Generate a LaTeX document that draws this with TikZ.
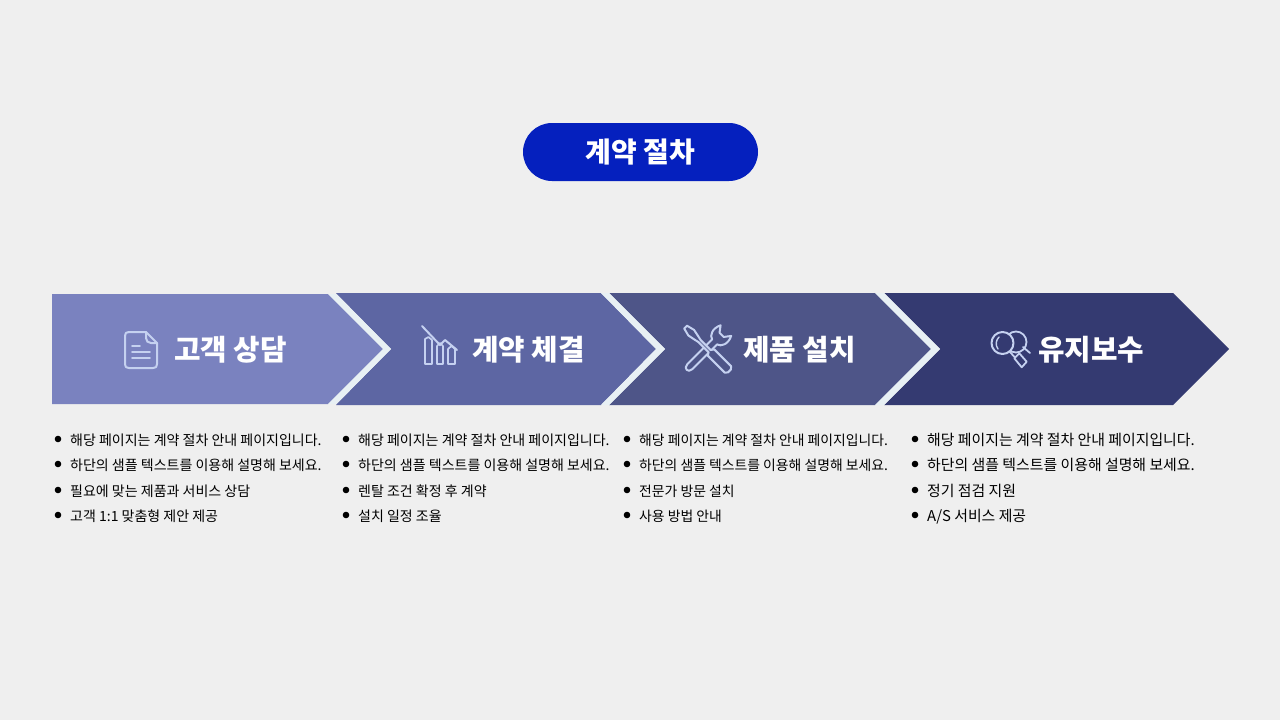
\documentclass[tikz,border=0pt]{standalone}
\usepackage{fontspec}
\setmainfont{Noto Sans CJK KR}
\definecolor{pagegray}{RGB}{239,239,239}
\definecolor{titleblue}{RGB}{5,32,190}
\definecolor{stepone}{RGB}{122,130,191}
\definecolor{steptwo}{RGB}{93,102,163}
\definecolor{stepthree}{RGB}{78,85,136}
\definecolor{stepfour}{RGB}{52,58,113}
\definecolor{bandlight}{RGB}{232,240,244}
\definecolor{iconlight}{RGB}{197,209,240}
\tikzset{
  steplabel/.style={text=white, font=\bfseries\fontsize{28.8}{30}\selectfont, inner sep=0pt, anchor=west, text height=22pt, text depth=4pt},
  itemtext/.style={text=black, font=\fontsize{14}{18}\selectfont, inner sep=0pt, anchor=west, text height=13pt, text depth=3pt},
  itemnarrow/.style={itemtext, font=\fontsize{13.85}{18}\selectfont},
  itemwide/.style={itemtext, font=\fontsize{14.9}{18}\selectfont},
  icon/.style={draw=iconlight, line width=2pt, line join=round, line cap=round}
}
\begin{document}
\begin{tikzpicture}[x=1pt, y=-1pt]

    % page
    \fill[pagegray] (0,0) rectangle (1280,720);
    \useasboundingbox (0,0) rectangle (1280,720);

    % title
    \fill[titleblue, rounded corners=29pt] (523,123) rectangle (758,181);
    \node [text=white, font=\bfseries\fontsize{28}{30}\selectfont, inner sep=0pt] (title) at (640.5,152) {계약 절차};

    % step arrows
    \fill[stepfour] (884,293) -- (1173,293) -- (1229,349) -- (1173,405) -- (884,405) -- (940,349) -- cycle;
    \fill[stepthree] (609,293) -- (875,293) -- (931,349) -- (875,405) -- (609,405) -- (665,349) -- cycle;
    \fill[steptwo] (336,293) -- (601,293) -- (656,349) -- (601,405) -- (336,405) -- (391,349) -- cycle;
    \fill[stepone] (52,294) -- (328,294) -- (383,349) -- (328,404) -- (52,404) -- cycle;

    % light bands
    \fill[bandlight] (328,294) -- (336,294) -- (391,349) -- (336,404) -- (328,404) -- (383,349) -- cycle;
    \fill[bandlight] (601,293) -- (609,293) -- (665,349) -- (609,405) -- (601,405) -- (656,349) -- cycle;
    \fill[bandlight] (875,293) -- (884,293) -- (940,349) -- (884,405) -- (875,405) -- (931,349) -- cycle;

    % step labels
    \node [steplabel] (consult) at (174,351) {고객 상담};
    \node [steplabel] (contract) at (472,351) {계약 체결};
    \node [steplabel] (install) at (743,351) {제품 설치};
    \node [steplabel] (service) at (1038,351) {유지보수};

    % document icon
    \draw[icon] (146,332) -- (129,332) .. controls (126,332) and (125,333) .. (125,336) -- (125,364) .. controls (125,367) and (126,368) .. (129,368) -- (153,368) .. controls (156,368) and (157,367) .. (157,364) -- (157,343) -- cycle;
    \draw[icon] (146,332) -- (146,338) .. controls (146,341) and (148,343) .. (151,343) -- (157,343);
    \draw[icon, line width=1.6pt] (132,346) -- (140,346);
    \draw[icon, line width=1.6pt] (132,352) -- (150,352);
    \draw[icon, line width=1.6pt] (132,358) -- (150,358);

    % chart icon
    \draw[icon, line width=1.7pt] (425,364) -- (425,339) -- (428.5,337) -- (432,340) -- (432,364) -- cycle;
    \draw[icon, line width=1.7pt] (437,364) -- (437,346) -- (440,343) -- (443,346) -- (443,364) -- cycle;
    \draw[icon, line width=1.7pt] (448,364) -- (448,349) -- (451.5,346) -- (455,349) -- (455,364) -- cycle;
    \draw[icon] (422,326) -- (440,345) -- (445,340) -- (457,350);

    % tools icon
    \begin{scope}[shift={(707.5,349)}, rotate=45]
    \draw[icon, fill=stepthree] (-25,3.5) -- (10,3.5) .. controls (11,8) and (18,11.5) .. (26,7.5) -- (20,3) -- (20,-3) -- (26,-7.5) .. controls (18,-11.5) and (11,-8) .. (10,-3.5) -- (-25,-3.5) .. controls (-31,-3.5) and (-31,3.5) .. (-25,3.5) -- cycle;
    \end{scope}
    \begin{scope}[shift={(707.5,349)}, rotate=-45]
    \draw[icon, fill=stepthree] (-31,-2) -- (-23,-4) -- (-11,-1.5) -- (3,-1.5) -- (5,-4.5) -- (29,-4.5) -- (31,-2) -- (31,2) -- (29,4.5) -- (5,4.5) -- (3,1.5) -- (-11,1.5) -- (-23,4) -- (-31,2) -- cycle;
    \end{scope}

    % magnifier icon
    \draw[icon, line width=1.8pt] (1016,342) circle [radius=10.5];
    \draw[icon, line width=1.8pt] (1023,347) -- (1030,353);
    \draw[icon, fill=stepfour] (1002.5,343) circle [radius=11];
    \draw[icon, line width=1.4pt] (999,337) .. controls (996,340) and (995,345) .. (998,349);
    \draw[icon, line width=1.8pt] (1009.5,351.5) -- (1015,357.5);
    \draw[icon, line width=1.8pt, fill=stepfour] (1014.3,358.3) -- (1019.3,353.3) -- (1026.7,361.7) -- (1021.7,367.3) -- cycle;

    % bullets
    \foreach \xdot in {58,346,627,915}
      \foreach \ydot in {439,464,490,515}
        \fill[black] (\xdot,\ydot) circle [radius=3.3];

    % first column
    \node [itemtext] (a1) at (70,440.5) {해당 페이지는 계약 절차 안내 페이지입니다.};
    \node [itemtext] (a2) at (70,465.5) {하단의 샘플 텍스트를 이용해 설명해 보세요.};
    \node [itemtext] (a3) at (70,491.5) {필요에 맞는 제품과 서비스 상담};
    \node [itemtext] (a4) at (70,516.5) {고객 1:1 맞춤형 제안 제공};

    % second column
    \node [itemtext] (b1) at (358,440.5) {해당 페이지는 계약 절차 안내 페이지입니다.};
    \node [itemtext] (b2) at (358,465.5) {하단의 샘플 텍스트를 이용해 설명해 보세요.};
    \node [itemtext] (b3) at (358,491.5) {렌탈 조건 확정 후 계약};
    \node [itemtext] (b4) at (358,516.5) {설치 일정 조율};

    % third column
    \node [itemnarrow] (c1) at (639,440.5) {해당 페이지는 계약 절차 안내 페이지입니다.};
    \node [itemnarrow] (c2) at (639,465.5) {하단의 샘플 텍스트를 이용해 설명해 보세요.};
    \node [itemnarrow] (c3) at (639,491.5) {전문가 방문 설치};
    \node [itemnarrow] (c4) at (639,516.5) {사용 방법 안내};

    % fourth column
    \node [itemwide] (d1) at (927,440.5) {해당 페이지는 계약 절차 안내 페이지입니다.};
    \node [itemwide] (d2) at (927,465.5) {하단의 샘플 텍스트를 이용해 설명해 보세요.};
    \node [itemwide] (d3) at (927,491.5) {정기 점검 지원};
    \node [itemwide] (d4) at (927,516.5) {A/S 서비스 제공};

\end{tikzpicture}
\end{document}
